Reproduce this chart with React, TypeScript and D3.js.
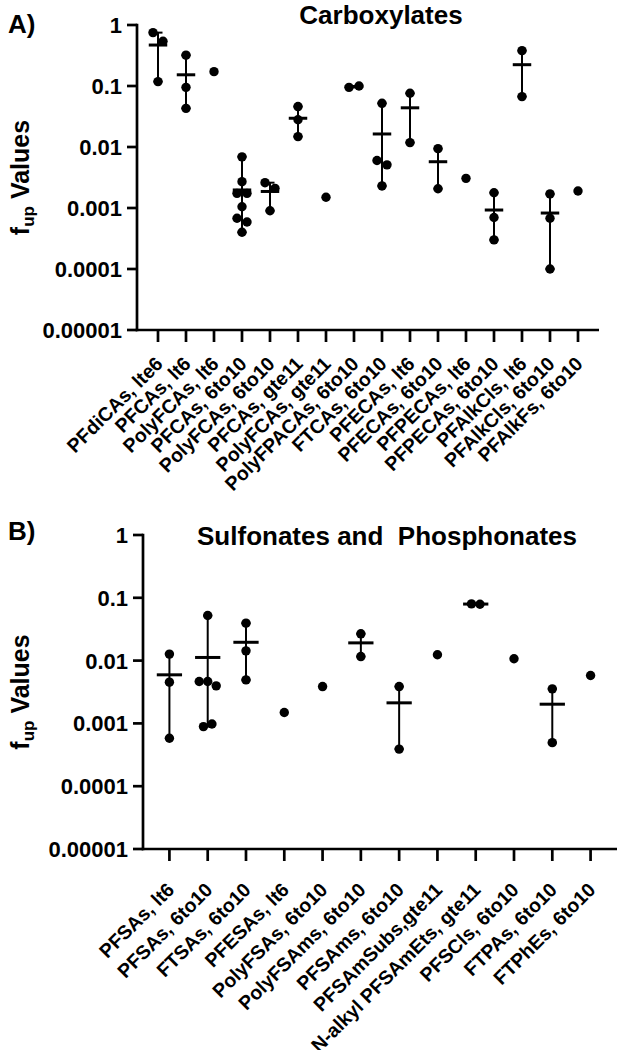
import React, { useEffect } from "react";
import * as d3 from "d3";

// ---------- data ----------
const tickValues = [1, 0.1, 0.01, 0.001, 0.0001, 0.00001];
const tickLabels = ["1", "0.1", "0.01", "0.001", "0.0001", "0.00001"];

const carboxylateCategories = [
  "PFdiCAs, lte6", "PFCAs, lt6", "PolyFCAs, lt6", "PFCAs, 6to10", "PolyFCAs, 6to10",
  "PFCAs, gte11", "PolyFCAs, gte11", "PolyFPACAs, 6to10", "FTCAs, 6to10", "PFECAs, lt6",
  "PFECAs, 6to10", "PFPECAs, lt6", "PFPECAs, 6to10", "PFAlkCls, lt6", "PFAlkCls, 6to10",
  "PFAlkFs, 6to10",
];
const carboxylateValues: number[][] = [
  [0.75, 0.54, 0.118],
  [0.32, 0.095, 0.043],
  [0.172],
  [0.0069, 0.0027, 0.00174, 0.00174, 0.00105, 0.00068, 0.00059, 0.0004],
  [0.0026, 0.0021, 0.0009],
  [0.046, 0.028, 0.0148],
  [0.0015],
  [0.095, 0.1],
  [0.052, 0.006, 0.0051, 0.0023],
  [0.076, 0.0118],
  [0.0094, 0.00207],
  [0.00306],
  [0.00178, 0.0007, 0.0003],
  [0.38, 0.067],
  [0.0017, 0.00068, 0.0001],
  [0.0019],
];

const sulfonateCategories = [
  "PFSAs, lt6", "PFSAs, 6to10", "FTSAs, 6to10", "PFESAs, lt6", "PolyFSAs, 6to10",
  "PolyFSAms, 6to10", "PFSAms, 6to10", "PFSAmSubs,gte11", "N-alkyl PFSAmEts, gte11",
  "PFSCls, 6to10", "FTPAs, 6to10", "FTPhEs, 6to10",
];
const sulfonateValues: number[][] = [
  [0.0127, 0.00453, 0.00058],
  [0.0522, 0.00464, 0.00464, 0.00396, 0.00089, 0.00098],
  [0.0395, 0.0143, 0.00493],
  [0.00149],
  [0.00386],
  [0.0267, 0.0116],
  [0.00386, 0.00039],
  [0.0124],
  [0.08, 0.079],
  [0.0107],
  [0.00355, 0.000494],
  [0.00578],
];

// ---------- helpers ----------
const FONT = "'Liberation Sans', Arial, Helvetica, sans-serif";

type Pt = { v: number; i: number; y: number; dx: number };

function swarm(values: number[], y: (v: number) => number, rowGap: number, spacing: number): Pt[] {
  const pts = values.map((v, i) => ({ v, i, y: y(v), dx: 0 }));
  const sorted = [...pts].sort((a, b) => a.y - b.y);
  const groups: Pt[][] = [];
  let cur: Pt[] = [];
  for (const p of sorted) {
    if (cur.length && p.y - cur[cur.length - 1].y > rowGap) {
      groups.push(cur);
      cur = [];
    }
    cur.push(p);
  }
  if (cur.length) groups.push(cur);
  const out: Pt[] = [];
  for (const g of groups) {
    g.sort((a, b) => a.i - b.i);
    g.forEach((p, k) => out.push({ ...p, dx: (k - (g.length - 1) / 2) * spacing }));
  }
  return out;
}

type PanelProps = {
  categories: string[];
  values: number[][];
  x0: number; x1: number; yTop: number; yBottom: number;
  padding: number;
  letter: string; letterY: number;
  title: string; titleX: number; titleY: number;
  labelDx: number; labelDy: number;
  spacing: number;
};

function Panel(p: PanelProps) {
  const x = d3.scalePoint<string>().domain(p.categories).range([p.x0, p.x1]).padding(p.padding);
  const y = d3.scaleLog().domain([0.00001, 1]).range([p.yBottom, p.yTop]);
  const step = x.step();
  const meanHalf = step * 0.33;
  const capHalf = 4.5;
  const r = 4.7;
  const yMid = (p.yTop + p.yBottom) / 2;

  return (
    <g>
      <text x={8} y={p.letterY} fontFamily={FONT} fontWeight="bold" fontSize={26}>{p.letter}</text>
      <text x={p.titleX} y={p.titleY} fontFamily={FONT} fontWeight="bold" fontSize={26} textAnchor="middle" style={{ whiteSpace: "pre" }}>{p.title}</text>

      {/* y label */}
      <text transform={`translate(29,${yMid}) rotate(-90)`} fontFamily={FONT} fontWeight="bold" fontSize={25} textAnchor="middle">
        <tspan>f</tspan>
        <tspan fontSize={17} dy={5}>up</tspan>
        <tspan dy={-5}> Values</tspan>
      </text>

      {/* y axis */}
      <line x1={p.x0} x2={p.x0} y1={p.yTop - 1.3} y2={p.yBottom + 1.3} stroke="#000" strokeWidth={2.7} />
      {tickValues.map((t, k) => (
        <g key={k}>
          <line x1={p.x0 - 10} x2={p.x0} y1={y(t)} y2={y(t)} stroke="#000" strokeWidth={2.7} />
          <text x={p.x0 - 15} y={y(t)} dy="0.36em" textAnchor="end" fontFamily={FONT} fontWeight="bold" fontSize={22}>{tickLabels[k]}</text>
        </g>
      ))}

      {/* x axis */}
      <line x1={p.x0 - 1.3} x2={p.x1} y1={p.yBottom} y2={p.yBottom} stroke="#000" strokeWidth={2.7} />
      {p.categories.map((c) => (
        <g key={c}>
          <line x1={x(c)} x2={x(c)} y1={p.yBottom} y2={p.yBottom + 12} stroke="#000" strokeWidth={2.7} />
          <text transform={`translate(${(x(c) as number) + p.labelDx},${p.yBottom + p.labelDy}) rotate(-45)`} textAnchor="end" fontFamily={FONT} fontWeight="bold" fontSize={19.5}>{c}</text>
        </g>
      ))}

      {/* points */}
      {p.categories.map((c, ci) => {
        const cx = x(c) as number;
        const vals = p.values[ci];
        const pts = swarm(vals, (v) => y(v), 9.5, p.spacing);
        return (
          <g key={c}>
            {pts.map((pt, k) => (
              <circle key={k} cx={cx + pt.dx} cy={pt.y} r={r} fill="#000" />
            ))}
          </g>
        );
      })}

      {/* mean and range bars */}
      {p.categories.map((c, ci) => {
        const cx = x(c) as number;
        const vals = p.values[ci];
        if (vals.length < 2) return null;
        const [lo, hi] = d3.extent(vals) as [number, number];
        const m = d3.mean(vals) as number;
        return (
          <g key={c} stroke="#000">
            <line x1={cx} x2={cx} y1={y(hi)} y2={y(lo)} strokeWidth={2} />
            <line x1={cx - capHalf} x2={cx + capHalf} y1={y(hi)} y2={y(hi)} strokeWidth={2} />
            <line x1={cx - capHalf} x2={cx + capHalf} y1={y(lo)} y2={y(lo)} strokeWidth={2} />
            <line x1={cx - meanHalf} x2={cx + meanHalf} y1={y(m)} y2={y(m)} strokeWidth={3} />
          </g>
        );
      })}
    </g>
  );
}

export default function App() {
  useEffect(() => {
    document.body.style.margin = "0";
    document.body.style.overflow = "hidden";
  }, []);
  return (
    <svg width={618} height={1050} style={{ position: "absolute", left: 0, top: 0, background: "#fff" }}>
      <rect width={618} height={1050} fill="#fff" />
      <Panel
        categories={carboxylateCategories}
        values={carboxylateValues}
        x0={137} x1={599} yTop={25} yBottom={330}
        padding={0.75}
        letter="A)" letterY={33}
        title="Carboxylates" titleX={381} titleY={24}
        labelDx={6} labelDy={35}
        spacing={10}
      />
      <Panel
        categories={sulfonateCategories}
        values={sulfonateValues}
        x0={143} x1={617} yTop={535} yBottom={849}
        padding={0.69}
        letter="B)" letterY={540}
        title={"Sulfonates and  Phosphonates"} titleX={387} titleY={545}
        labelDx={6} labelDy={42}
        spacing={8.5}
      />
    </svg>
  );
}
